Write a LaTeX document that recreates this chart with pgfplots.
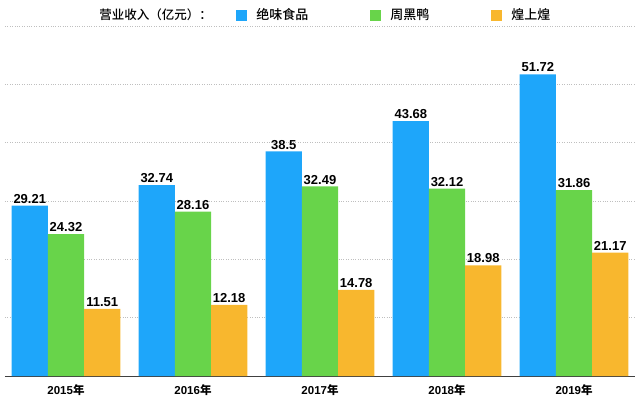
\documentclass[border=0pt]{standalone}
\usepackage{pgfplots}
\pgfplotsset{compat=1.18}
\usepackage{fontspec}
\setmainfont{Liberation Sans}
\newfontfamily\cjk{Noto Sans CJK SC}
\newfontfamily\cjkm{Noto Sans CJK SC Medium}
\definecolor{cblue}{RGB}{30,166,250}
\definecolor{cgreen}{RGB}{104,212,74}
\definecolor{corange}{RGB}{248,183,46}
\begin{document}
\begin{tikzpicture}
\useasboundingbox (0pt,0pt) rectangle (640pt,399pt);
\begin{axis}[
  at={(5pt,23pt)}, anchor=south west,
  scale only axis, width=630pt, height=350pt,
  xmin=-0.48, xmax=4.48, ymin=0, ymax=60,
  clip=false,
  axis x line*=bottom, axis y line*=left,
  x axis line style={line width=1pt, draw=black!75},
  y axis line style={draw=none},
  ybar, bar width=0.285, 
  xtick={0,1,2,3,4},
  xticklabels={{\bfseries 2015\cjk 年},{\bfseries 2016\cjk 年},{\bfseries 2017\cjk 年},{\bfseries 2018\cjk 年},{\bfseries 2019\cjk 年}},
  xticklabel style={font=\fontsize{11.5}{13}\selectfont, yshift=-5pt},
  major tick length=0pt,
  ytick={10,20,30,40,50,60}, yticklabels={},
  ymajorgrids, grid style={dotted, line width=0.9pt, draw=black!25},
  nodes near coords,
  /pgf/number format/assume math mode=true,
  /pgf/number format/fixed, /pgf/number format/precision=2,
  nodes near coords style={font=\bfseries\fontsize{13}{15}\selectfont, inner sep=2pt, black},
  legend columns=-1,
  legend style={draw=none, fill=none, at={(0.367,1.031)}, anchor=west,
    font=\cjkm\fontsize{13}{15}\selectfont, inner sep=0pt,
    /tikz/every odd column/.append style={column sep=7pt},
    /tikz/every even column/.append style={column sep=60pt}},
  legend image code/.code={\fill[#1, draw=none] (0pt,-5.5pt) rectangle (11pt,5.5pt);},
]
\addplot[fill=cblue, draw=none, bar shift=-0.285] coordinates {(0,29.21) (1,32.74) (2,38.5) (3,43.68) (4,51.72)};
\addplot[fill=cgreen, draw=none, bar shift=0] coordinates {(0,24.32) (1,28.16) (2,32.49) (3,32.12) (4,31.86)};
\addplot[fill=corange, draw=none, bar shift=0.285] coordinates {(0,11.51) (1,12.18) (2,14.78) (3,18.98) (4,21.17)};
\legend{绝味食品,周黑鸭,煌上煌}
\node[font=\cjkm\fontsize{12.5}{15}\selectfont, anchor=center] at (rel axis cs:0.239,1.031) {营业收入（亿元）：};
\end{axis}
\end{tikzpicture}
\end{document}
